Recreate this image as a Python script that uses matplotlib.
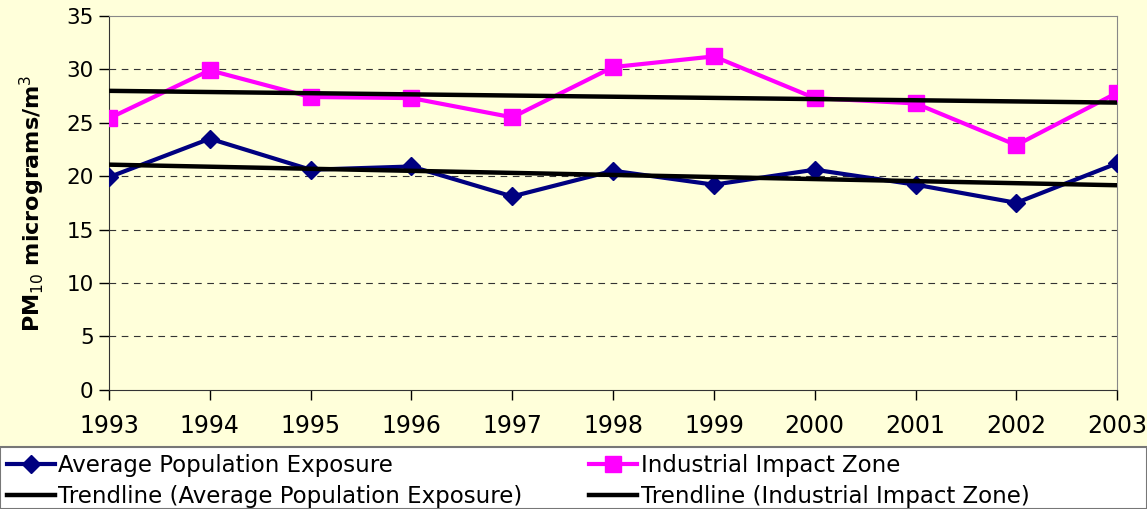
import numpy as np
import matplotlib.pyplot as plt
from matplotlib.patches import Rectangle

plt.rcParams['font.family'] = ['DejaVu Sans']

# data
years = [1993, 1994, 1995, 1996, 1997, 1998, 1999, 2000, 2001, 2002, 2003]
avg_exposure = [19.9, 23.5, 20.6, 20.9, 18.1, 20.5, 19.2, 20.6, 19.2, 17.5, 21.2]
industrial_zone = [25.4, 29.9, 27.4, 27.3, 25.5, 30.2, 31.2, 27.3, 26.8, 22.9, 27.8]

bg = '#FFFFDA'

fig = plt.figure(figsize=(11.47, 5.09), dpi=100, facecolor=bg)
ax = fig.add_axes([0.095, 0.234, 0.879, 0.735])
ax.set_facecolor(bg)

x = np.array(years)

# linear trendlines fitted to each series
p_avg = np.polyfit(x, avg_exposure, 1)
p_ind = np.polyfit(x, industrial_zone, 1)

l1, = ax.plot(x, avg_exposure, color='#000080', lw=3, marker='D', ms=9.5,
              label='Average Population Exposure', zorder=3)
l2, = ax.plot(x, industrial_zone, color='#FF00FF', lw=3, marker='s', ms=12,
              label='Industrial Impact Zone', zorder=3)
t1, = ax.plot(x, np.polyval(p_avg, x), color='black', lw=3.2,
              label='Trendline (Average Population Exposure)', zorder=4)
t2, = ax.plot(x, np.polyval(p_ind, x), color='black', lw=3.2,
              label='Trendline (Industrial Impact Zone)', zorder=4)

ax.set_xlim(1993, 2003)
ax.set_ylim(0, 35)
ax.set_xticks(years)
ax.set_yticks(range(0, 36, 5))
ax.tick_params(axis='both', length=7, width=1, direction='out')
ax.tick_params(axis='x', labelsize=17, pad=10)
ax.tick_params(axis='y', labelsize=15.5, pad=4)

for yv in range(5, 35, 5):
    ax.axhline(yv, color='#333333', lw=0.8, ls=(0, (6, 5)), zorder=1)

ax.spines['left'].set_color('#333333')
ax.spines['bottom'].set_color('#333333')
ax.spines['top'].set_color('#888888')
ax.spines['right'].set_color('#888888')

ax.set_ylabel('PM$_{10}$ micrograms/m$^3$', fontsize=16, fontweight='bold', labelpad=14)

# legend box along the bottom
fig.patches.append(Rectangle((0, 0), 1, 62 / 509, transform=fig.transFigure,
                             facecolor='white', edgecolor='#777777', lw=1.5, zorder=0))
leg_kw = dict(loc='lower left', frameon=False, fontsize=16.5, handlelength=2.1,
              handletextpad=0.15, labelspacing=0.38, borderaxespad=0.0, borderpad=0.1)
leg1 = fig.legend([l1, t1], [l1.get_label(), t1.get_label()],
                  bbox_to_anchor=(0.004, -0.003), **leg_kw)
leg2 = fig.legend([l2, t2], [l2.get_label(), t2.get_label()],
                  bbox_to_anchor=(587 / 1147, -0.003), **leg_kw)

fig.savefig('out.png', dpi=100, facecolor=bg)
